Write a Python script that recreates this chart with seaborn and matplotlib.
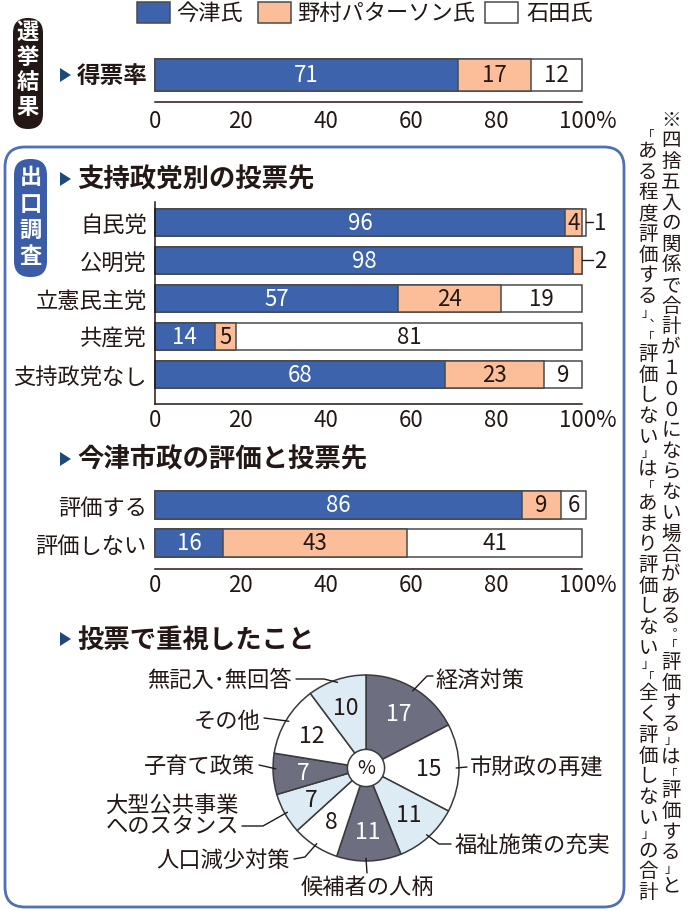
import numpy as np
import pandas as pd
import matplotlib
matplotlib.use("Agg")
import matplotlib.pyplot as plt
import matplotlib.transforms as mtransforms
from matplotlib.patches import FancyBboxPatch, Rectangle, Polygon, Circle
import seaborn as sns

# ---------------- data ----------------
candidates = ["今津氏", "野村パターソン氏", "石田氏"]

result_cats = ["得票率"]
result_imazu = [71]
result_nomura = [17]
result_ishida = [12]

party_cats = ["自民党", "公明党", "立憲民主党", "共産党", "支持政党なし"]
party_imazu = [96, 98, 57, 14, 68]
party_nomura = [4, 2, 24, 5, 23]
party_ishida = [1, 0, 19, 81, 9]

eval_cats = ["評価する", "評価しない"]
eval_imazu = [86, 16]
eval_nomura = [9, 43]
eval_ishida = [6, 41]

x_ticks = [0, 20, 40, 60, 80, 100]
x_ticklabels = ["0", "20", "40", "60", "80", "100%"]

issue_labels = ["経済対策", "市財政の再建", "福祉施策の充実", "候補者の人柄", "人口減少対策",
                "大型公共事業\nへのスタンス", "子育て政策", "その他", "無記入･無回答"]
issue_values = [17, 15, 11, 11, 8, 7, 7, 12, 10]

pill_1 = "選挙結果"
pill_2 = "出口調査"
title_2 = "支持政党別の投票先"
title_3 = "今津市政の評価と投票先"
title_4 = "投票で重視したこと"
note_right = "※四捨五入の関係で合計が１００にならない場合がある︒「評価する」は「評価する」と"
note_left = "「ある程度評価する」︑「評価しない」は「あまり評価しない」「全く評価しない」の合計"

# ---------------- style ----------------
BLUE = "#3e63ad"
PEACH = "#fbbe98"
WHITE = "#ffffff"
EDGE = "#4a4a4a"
INK = "#231815"
PIE_DARK = "#6d6f80"
PIE_LIGHT = "#dcebf4"
BOX_BLUE = "#4f70b3"
PILL_BLUE = "#3b5ca6"
TRI = "#1d4a7c"
seg_colors = [BLUE, PEACH, WHITE]
seg_text = ["white", INK, INK]
pie_colors = [PIE_DARK, WHITE, PIE_LIGHT, PIE_DARK, WHITE, PIE_LIGHT, PIE_DARK, WHITE, PIE_LIGHT]

sns.set_theme(style="white")
plt.rcParams["font.family"] = ["Noto Sans CJK JP", "DejaVu Sans"]
plt.rcParams["text.color"] = INK

W, H = 689, 912
fig = plt.figure(figsize=(W / 100, H / 100), dpi=100)
fig.patch.set_facecolor("white")


def add_ax(x0, y0, x1, y1, z=1):
    ax = fig.add_axes([x0 / W, 1 - y1 / H, (x1 - x0) / W, (y1 - y0) / H], zorder=z)
    ax.patch.set_alpha(0)
    return ax


def stacked(ax, cats, a, b, c, center0, spacing, top_px, bottom_px, bar_px, left_spine,
            show_cats, tick_pad=3):
    a = np.asarray(a); b = np.asarray(b); c = np.asarray(c)
    df = pd.DataFrame({"cat": cats, "a": a, "ab": a + b, "abc": a + b + c})
    w = bar_px / spacing
    for col, colr in [("abc", seg_colors[2]), ("ab", seg_colors[1]), ("a", seg_colors[0])]:
        sns.barplot(data=df, x=col, y="cat", order=cats, color=colr, saturation=1,
                    width=w, edgecolor=EDGE, linewidth=1.1, errorbar=None, ax=ax, orient="h")
    for p in ax.patches:
        p.set_clip_on(False)
    ax.set_xlim(0, 100)
    ax.set_ylim((bottom_px - center0) / spacing, -(center0 - top_px) / spacing)
    ax.set(xlabel="", ylabel="")
    for s in ["top", "right"]:
        ax.spines[s].set_visible(False)
    ax.spines["left"].set_visible(left_spine)
    for s in ["left", "bottom"]:
        ax.spines[s].set_color(INK)
        ax.spines[s].set_linewidth(1.1)
    ax.set_xticks(x_ticks, x_ticklabels)
    ax.tick_params(axis="x", direction="in", length=5, width=1.1, colors=INK, labelsize=16,
                   pad=tick_pad)
    ax.tick_params(axis="y", length=0, labelsize=16, pad=6, labelcolor=INK, labelleft=show_cats)
    lbl = ax.get_xticklabels()[-1]
    lbl.set_transform(lbl.get_transform() + mtransforms.ScaledTranslation(0.06, 0, fig.dpi_scale_trans))
    for i in range(len(cats)):
        vals = [a[i], b[i], c[i]]
        left = 0
        for k, v in enumerate(vals):
            if v > 0:
                if v >= 3:
                    ax.text(left + v / 2, i, str(v), ha="center", va="center",
                            fontsize=16, color=seg_text[k])
                else:
                    end = left + v
                    ax.plot([end, 102.5], [i, i], color=INK, lw=1, clip_on=False)
                    ax.text(102.8, i, str(v), ha="left", va="center", fontsize=16,
                            color=INK, clip_on=False)
            left += v


# ---------------- bar charts ----------------
ax1 = add_ax(155, 55, 582, 103)
stacked(ax1, result_cats, result_imazu, result_nomura, result_ishida,
        76, 40, 55, 103, 32, False, False, tick_pad=5)

ax2 = add_ax(155, 203, 582, 405)
stacked(ax2, party_cats, party_imazu, party_nomura, party_ishida,
        223, 38, 203, 405, 27, True, True)

ax3 = add_ax(155, 485, 582, 570)
stacked(ax3, eval_cats, eval_imazu, eval_nomura, eval_ishida,
        506, 38, 485, 570, 28, False, True)

# ---------------- pie ----------------
PCX, PCY, PR = 366, 769, 93
axp = add_ax(PCX - PR, PCY - PR, PCX + PR, PCY + PR)
wedges, _ = axp.pie(issue_values, colors=pie_colors, startangle=90, counterclock=False,
                    radius=1, wedgeprops=dict(edgecolor="#3a3a3a", linewidth=1.1))
for wdg in wedges:
    wdg.set_clip_on(False)
axp.set_aspect("auto")
axp.set_xlim(-1, 1)
axp.set_ylim(-1, 1)
axp.axis("off")
for wdg, v, colr in zip(wedges, issue_values, pie_colors):
    ang = np.deg2rad((wdg.theta1 + wdg.theta2) / 2)
    axp.text(0.68 * np.cos(ang), 0.68 * np.sin(ang), str(v), ha="center", va="center",
             fontsize=16.5, color="white" if colr == PIE_DARK else INK)
axp.add_patch(Circle((0, 0), 0.2, fc="white", ec="#3a3a3a", lw=1.1, zorder=5))
axp.text(0, 0, "%", ha="center", va="center", fontsize=14, color=INK, zorder=6)

# ---------------- overlay (pixel coords) ----------------
ov = fig.add_axes([0, 0, 1, 1], zorder=10)
ov.set_xlim(0, W)
ov.set_ylim(H, 0)
ov.axis("off")
ov.patch.set_alpha(0)

# legend
leg_boxes = [(137, 170), (258, 291), (485, 518)]
leg_text_x = [176, 297, 526]
for (x0, x1), tx, name, colr in zip(leg_boxes, leg_text_x, candidates, seg_colors):
    ov.add_patch(Rectangle((x0, 3), x1 - x0, 21, fc=colr, ec=EDGE, lw=1.1))
    ov.text(tx, 13.5, name, ha="left", va="center", fontsize=16, color=INK)

# pills
ov.add_patch(FancyBboxPatch((13, 19), 30, 111, boxstyle="round,pad=0,rounding_size=15",
                            fc=INK, ec="none"))
for i, ch in enumerate(pill_1):
    ov.text(28, 32 + i * 25, ch, ha="center", va="center", fontsize=16,
            fontweight="bold", color="white")

ov.add_patch(FancyBboxPatch((5, 148), 619, 760, boxstyle="round,pad=0,rounding_size=20",
                            fc="none", ec=BOX_BLUE, lw=2))
ov.add_patch(FancyBboxPatch((14, 160), 33, 118, boxstyle="round,pad=0,rounding_size=16",
                            fc=PILL_BLUE, ec="none"))
for i, ch in enumerate(pill_2):
    ov.text(30.5, 178 + i * 26.3, ch, ha="center", va="center", fontsize=16,
            fontweight="bold", color="white")


# titles
def title(y, text, size, x_tri=60):
    ov.add_patch(Polygon([(x_tri, y - 7), (x_tri, y + 7), (x_tri + 11, y)], closed=True,
                         fc=TRI, ec="none"))
    ov.text(x_tri + 17, y, text, ha="left", va="center", fontsize=size,
            fontweight="bold", color=INK)


title(76, result_cats[0], 17)
title(180, title_2, 19)
title(460, title_3, 19)
title(640, title_4, 19)


# pie labels with leader lines
def wedge_px(idx, r=0.97, angle=None):
    wdg = wedges[idx]
    ang = (wdg.theta1 + wdg.theta2) / 2 if angle is None else angle
    ang = np.deg2rad(ang)
    disp = axp.transData.transform((r * np.cos(ang), r * np.sin(ang)))
    return ov.transData.inverted().transform(disp)


label_layout = [
    # (text_x, text_y, ha, path points, angle override)
    (435, 680, "left", [(433, 677), (427, 677)], None),
    (470, 768, "left", [(467, 768)], 0),
    (455, 845, "left", [(451, 845), (439, 845)], None),
    (367, 887, "center", [(367, 874)], 270),
    (290, 860, "right", [(294, 860), (305, 858)], None),
    (239, 805, "right", [(242, 827), (263, 827)], None),
    (255, 766, "right", [(259, 766)], 180.5),
    (260, 722, "right", [(264, 719)], None),
    (292, 680, "right", [(296, 680), (324, 680)], None),
]
for idx, (lab, (tx, ty, ha, pts, angov)) in enumerate(zip(issue_labels, label_layout)):
    end = wedge_px(idx, angle=angov)
    xs = [p[0] for p in pts] + [end[0]]
    ys = [p[1] for p in pts] + [end[1]]
    ov.plot(xs, ys, color=INK, lw=1)
    for j, line in enumerate(lab.split("\n")):
        ov.text(tx, ty + j * 22, line, ha=ha, va="center", fontsize=16, color=INK)


# vertical note (brackets / punctuation set smaller and take ~half a cell)
HALF = set("「」︒︑")


def vertical(text, x, y0, cell=20.7):
    sizes = [0.6 if ch in HALF else 1.0 for ch in text]
    y = y0
    for i, ch in enumerate(text):
        fs = 9 if ch in HALF else 14
        ov.text(x, y, ch, ha="center", va="center", fontsize=fs, color=INK)
        if i + 1 < len(text):
            y += (sizes[i] + sizes[i + 1]) / 2 * cell


vertical(note_right, 671, 120)
vertical(note_left, 648, 135)

fig.savefig("out.png", dpi=100, facecolor="white")
